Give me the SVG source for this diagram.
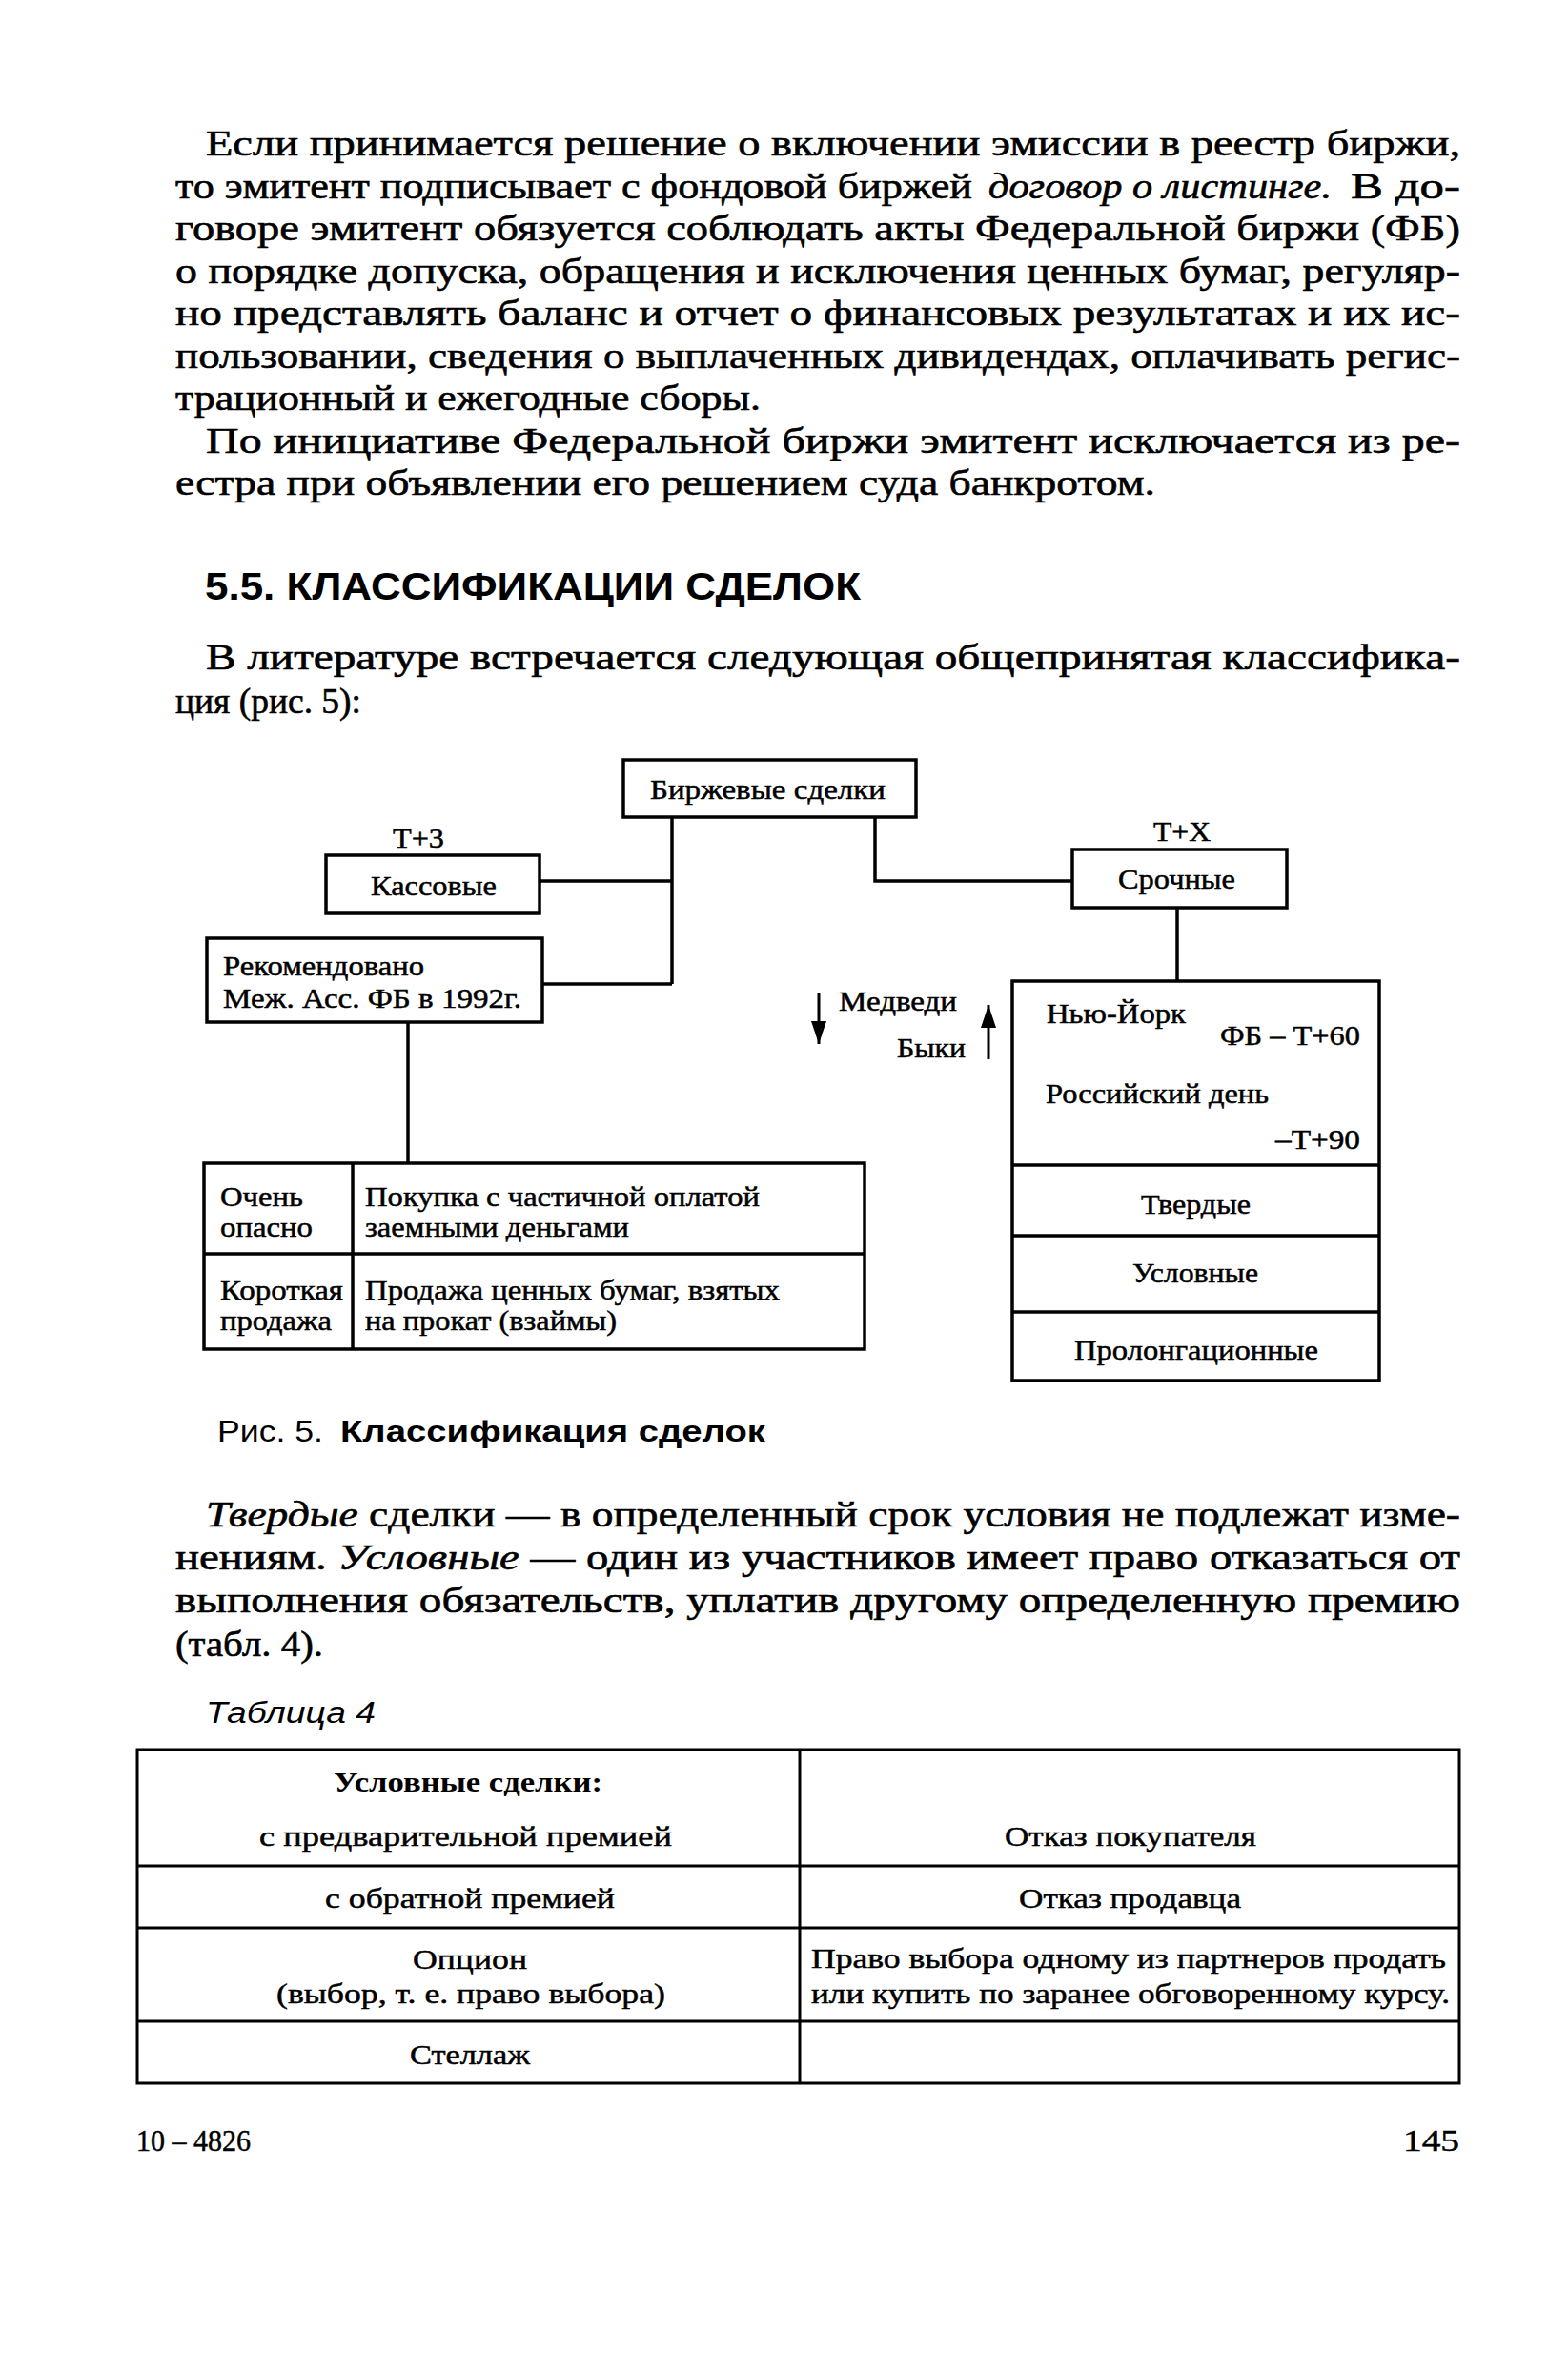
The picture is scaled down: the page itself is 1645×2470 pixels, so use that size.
<svg xmlns="http://www.w3.org/2000/svg" width="1645" height="2470" viewBox="0 0 1645 2470">
<style>
.bg{fill:#fff}
.body{font-family:"Liberation Serif","Times New Roman",serif;font-size:37px;fill:#000;stroke:#000;stroke-width:0.6}
.it{font-style:italic}
.head{font-family:"Liberation Sans",Arial,sans-serif;font-size:40px;font-weight:bold;fill:#000}
.cap{font-family:"Liberation Sans",Arial,sans-serif;font-size:32px;fill:#000}
.capb{font-family:"Liberation Sans",Arial,sans-serif;font-size:32px;font-weight:bold;fill:#000}
.capi{font-family:"Liberation Sans",Arial,sans-serif;font-size:31px;font-style:italic;fill:#000}
.dg{font-family:"Liberation Serif","Times New Roman",serif;font-size:29px;fill:#000;stroke:#000;stroke-width:0.5}
.dgb{font-family:"Liberation Serif","Times New Roman",serif;font-size:29px;font-weight:bold;fill:#000}
.foot{font-family:"Liberation Serif","Times New Roman",serif;font-size:32px;fill:#000;stroke:#000;stroke-width:0.5}
.box{fill:none;stroke:#000;stroke-width:3.5}
.line{fill:none;stroke:#000;stroke-width:3.5}
.conn{fill:none;stroke:#000;stroke-width:3.5}
.arr{fill:none;stroke:#000;stroke-width:3}
.tbl{fill:none;stroke:#000;stroke-width:3}
</style>
<defs>
<marker id="ah" markerUnits="userSpaceOnUse" markerWidth="26" markerHeight="18" refX="24" refY="8" orient="auto">
<path d="M0,0 L24,8 L0,16 Z" fill="#000"/>
</marker>
</defs>
<rect class="bg" x="0" y="0" width="1645" height="2470"/>

<g id="text-top">
<text class="body" x="216" y="163" textLength="1316" lengthAdjust="spacingAndGlyphs">Если принимается решение о включении эмиссии в реестр биржи,</text>
<text class="body" x="184" y="208" textLength="836" lengthAdjust="spacingAndGlyphs">то эмитент подписывает с фондовой биржей</text>
<text class="body it" x="1037" y="208" textLength="360" lengthAdjust="spacingAndGlyphs">договор о листинге.</text>
<text class="body" x="1417" y="208" textLength="115" lengthAdjust="spacingAndGlyphs">В до-</text>
<text class="body" x="184" y="252" textLength="1348" lengthAdjust="spacingAndGlyphs">говоре эмитент обязуется соблюдать акты Федеральной биржи (ФБ)</text>
<text class="body" x="184" y="297" textLength="1348" lengthAdjust="spacingAndGlyphs">о порядке допуска, обращения и исключения ценных бумаг, регуляр-</text>
<text class="body" x="184" y="341" textLength="1348" lengthAdjust="spacingAndGlyphs">но представлять баланс и отчет о финансовых результатах и их ис-</text>
<text class="body" x="184" y="386" textLength="1348" lengthAdjust="spacingAndGlyphs">пользовании, сведения о выплаченных дивидендах, оплачивать регис-</text>
<text class="body" x="184" y="430" textLength="614" lengthAdjust="spacingAndGlyphs">трационный и ежегодные сборы.</text>
<text class="body" x="216" y="475" textLength="1316" lengthAdjust="spacingAndGlyphs">По инициативе Федеральной биржи эмитент исключается из ре-</text>
<text class="body" x="184" y="519" textLength="1028" lengthAdjust="spacingAndGlyphs">естра при объявлении его решением суда банкротом.</text>
<text class="head" x="215" y="629" textLength="688" lengthAdjust="spacingAndGlyphs">5.5. КЛАССИФИКАЦИИ СДЕЛОК</text>
<text class="body" x="216" y="702" textLength="1316" lengthAdjust="spacingAndGlyphs">В литературе встречается следующая общепринятая классифика-</text>
<text class="body" x="184" y="748" textLength="195" lengthAdjust="spacingAndGlyphs">ция (рис. 5):</text>
</g>

<g id="connectors">
<path class="conn" d="M705,857 V1032 M566,924 H705 M569,1032 H705"/>
<path class="conn" d="M918,857 V924 H1125"/>
<path class="conn" d="M1235,952 V1029"/>
<path class="conn" d="M428,1072 V1220"/>
<line class="arr" x1="859" y1="1042" x2="859" y2="1095" marker-end="url(#ah)"/>
<line class="arr" x1="1037" y1="1111" x2="1037" y2="1054" marker-end="url(#ah)"/>
</g>

<g id="node-birzhevye">
<rect class="box" x="654" y="797" width="307" height="60"/>
<text class="dg" x="682" y="838" textLength="247" lengthAdjust="spacingAndGlyphs">Биржевые сделки</text>
</g>
<g id="node-kassovye">
<text class="dg" x="412" y="889" textLength="54" lengthAdjust="spacingAndGlyphs">Т+3</text>
<rect class="box" x="342" y="897" width="224" height="61"/>
<text class="dg" x="389" y="939" textLength="132" lengthAdjust="spacingAndGlyphs">Кассовые</text>
</g>
<g id="node-rekomendovano">
<rect class="box" x="217" y="984" width="352" height="88"/>
<text class="dg" x="234" y="1023" textLength="211" lengthAdjust="spacingAndGlyphs">Рекомендовано</text>
<text class="dg" x="234" y="1057" textLength="313" lengthAdjust="spacingAndGlyphs">Меж. Асс. ФБ в 1992г.</text>
</g>
<g id="node-srochnye">
<text class="dg" x="1210" y="882" textLength="60" lengthAdjust="spacingAndGlyphs">Т+Х</text>
<rect class="box" x="1125" y="891" width="225" height="61"/>
<text class="dg" x="1173" y="932" textLength="123" lengthAdjust="spacingAndGlyphs">Срочные</text>
</g>
<g id="node-medvedi-byki">
<text class="dg" x="880" y="1060" textLength="124" lengthAdjust="spacingAndGlyphs">Медведи</text>
<text class="dg" x="941" y="1109" textLength="72" lengthAdjust="spacingAndGlyphs">Быки</text>
</g>
<g id="node-srochnye-types">
<rect class="box" x="1062" y="1029" width="385" height="419"/>
<path class="line" d="M1062,1222 H1447 M1062,1296 H1447 M1062,1376 H1447"/>
<text class="dg" x="1098" y="1073" textLength="146" lengthAdjust="spacingAndGlyphs">Нью-Йорк</text>
<text class="dg" x="1280" y="1096" textLength="147" lengthAdjust="spacingAndGlyphs">ФБ – Т+60</text>
<text class="dg" x="1097" y="1157" textLength="234" lengthAdjust="spacingAndGlyphs">Российский день</text>
<text class="dg" x="1338" y="1205" textLength="89" lengthAdjust="spacingAndGlyphs">–Т+90</text>
<text class="dg" x="1197" y="1273" textLength="115" lengthAdjust="spacingAndGlyphs">Твердые</text>
<text class="dg" x="1188" y="1345" textLength="132" lengthAdjust="spacingAndGlyphs">Условные</text>
<text class="dg" x="1127" y="1426" textLength="256" lengthAdjust="spacingAndGlyphs">Пролонгационные</text>
</g>
<g id="node-risk-table">
<rect class="box" x="214" y="1220" width="693" height="195"/>
<path class="line" d="M370,1220 V1415 M214,1315 H907"/>
<text class="dg" x="231" y="1265" textLength="87" lengthAdjust="spacingAndGlyphs">Очень</text>
<text class="dg" x="231" y="1297" textLength="97" lengthAdjust="spacingAndGlyphs">опасно</text>
<text class="dg" x="383" y="1265" textLength="414" lengthAdjust="spacingAndGlyphs">Покупка с частичной оплатой</text>
<text class="dg" x="383" y="1297" textLength="277" lengthAdjust="spacingAndGlyphs">заемными деньгами</text>
<text class="dg" x="231" y="1363" textLength="129" lengthAdjust="spacingAndGlyphs">Короткая</text>
<text class="dg" x="231" y="1395" textLength="117" lengthAdjust="spacingAndGlyphs">продажа</text>
<text class="dg" x="383" y="1363" textLength="435" lengthAdjust="spacingAndGlyphs">Продажа ценных бумаг, взятых</text>
<text class="dg" x="383" y="1395" textLength="264" lengthAdjust="spacingAndGlyphs">на прокат (взаймы)</text>
</g>

<g id="text-bottom">
<text class="cap" x="228" y="1512" textLength="111" lengthAdjust="spacingAndGlyphs">Рис. 5.</text>
<text class="capb" x="357" y="1512" textLength="446" lengthAdjust="spacingAndGlyphs">Классификация сделок</text>
<text class="body" x="216" y="1601" textLength="1316" lengthAdjust="spacingAndGlyphs"><tspan class="it">Твердые</tspan> сделки — в определенный срок условия не подлежат изме-</text>
<text class="body" x="184" y="1646" textLength="1348" lengthAdjust="spacingAndGlyphs">нениям. <tspan class="it">Условные</tspan> — один из участников имеет право отказаться от</text>
<text class="body" x="184" y="1691" textLength="1348" lengthAdjust="spacingAndGlyphs">выполнения обязательств, уплатив другому определенную премию</text>
<text class="body" x="184" y="1737" textLength="155" lengthAdjust="spacingAndGlyphs">(табл. 4).</text>
<text class="capi" x="216" y="1807" textLength="178" lengthAdjust="spacingAndGlyphs">Таблица 4</text>
</g>

<g id="table-4">
<rect class="tbl" x="144" y="1835" width="1387" height="350"/>
<path class="tbl" d="M839,1835 V2185 M144,1957 H1531 M144,2022 H1531 M144,2120 H1531"/>
<text class="dgb" x="350" y="1879" textLength="282" lengthAdjust="spacingAndGlyphs">Условные сделки:</text>
<text class="dg" x="272" y="1936" textLength="433" lengthAdjust="spacingAndGlyphs">с предварительной премией</text>
<text class="dg" x="1054" y="1936" textLength="264" lengthAdjust="spacingAndGlyphs">Отказ покупателя</text>
<text class="dg" x="341" y="2001" textLength="304" lengthAdjust="spacingAndGlyphs">с обратной премией</text>
<text class="dg" x="1069" y="2001" textLength="233" lengthAdjust="spacingAndGlyphs">Отказ продавца</text>
<text class="dg" x="433" y="2065" textLength="120" lengthAdjust="spacingAndGlyphs">Опцион</text>
<text class="dg" x="290" y="2101" textLength="408" lengthAdjust="spacingAndGlyphs">(выбор, т. е. право выбора)</text>
<text class="dg" x="851" y="2064" textLength="666" lengthAdjust="spacingAndGlyphs">Право выбора одному из партнеров продать</text>
<text class="dg" x="851" y="2101" textLength="670" lengthAdjust="spacingAndGlyphs">или купить по заранее обговоренному курсу.</text>
<text class="dg" x="430" y="2165" textLength="126" lengthAdjust="spacingAndGlyphs">Стеллаж</text>
</g>

<g id="footer">
<text class="foot" x="143" y="2256" textLength="120" lengthAdjust="spacingAndGlyphs">10 – 4826</text>
<text class="foot" x="1472" y="2256" textLength="59" lengthAdjust="spacingAndGlyphs">145</text>
</g>
</svg>
